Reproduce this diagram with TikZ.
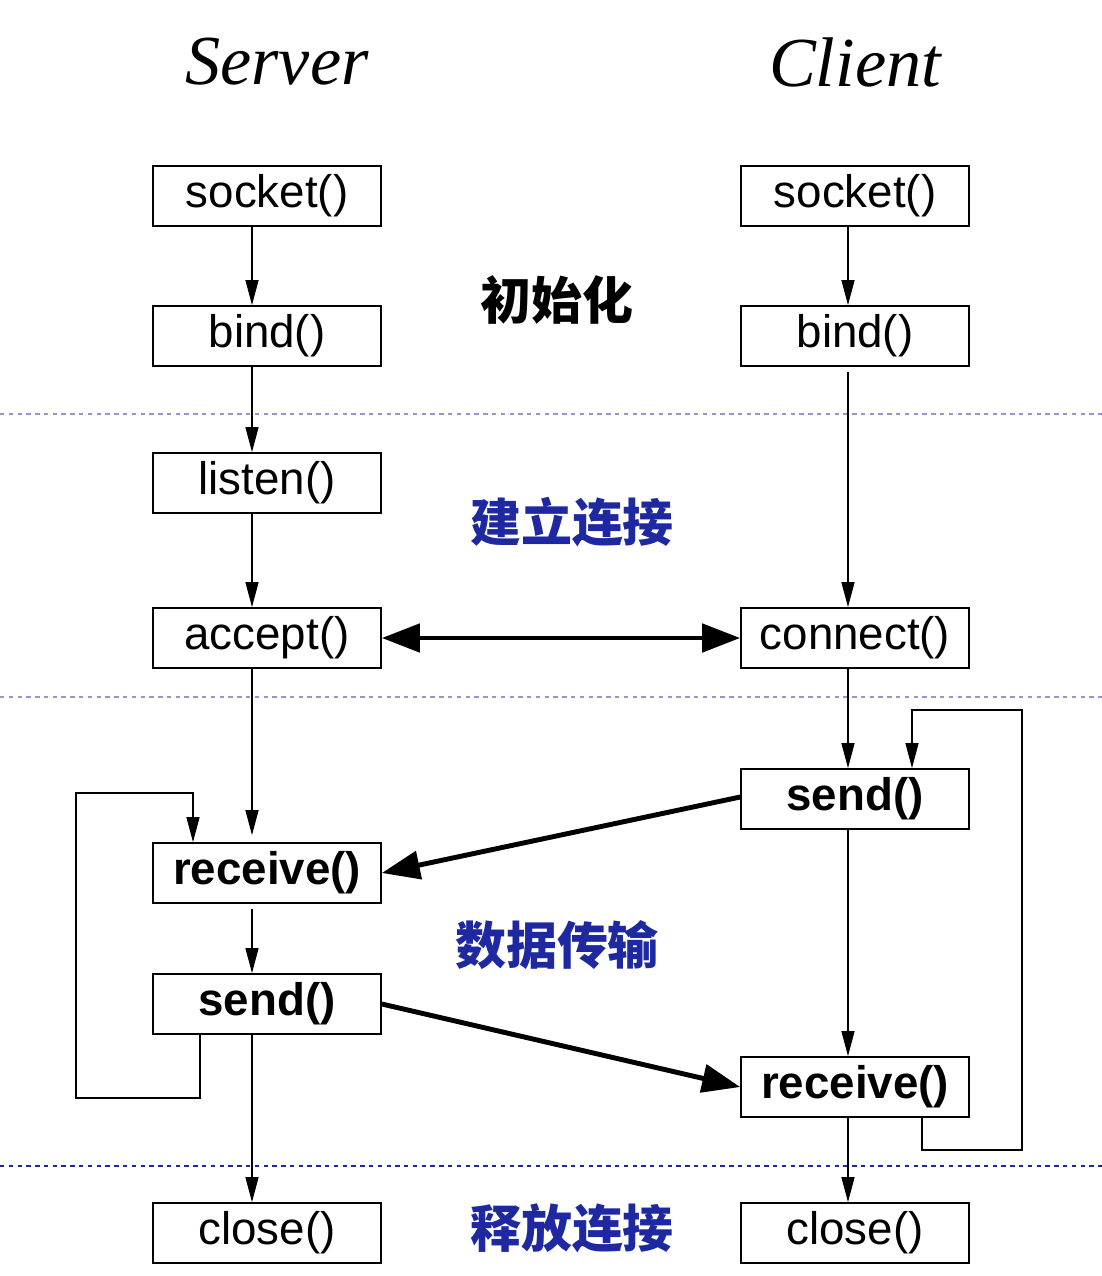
\documentclass[tikz,border=0pt]{standalone}
\usepackage{fontspec}
\setmainfont{Liberation Sans}
\newfontfamily\titlefont{Liberation Serif}
\newfontfamily\cjk{Noto Sans CJK SC}
\usetikzlibrary{arrows.meta}
\definecolor{stageblue}{RGB}{30,40,160}
\definecolor{sepline}{RGB}{150,150,205}

\begin{document}
\begin{tikzpicture}[x=0.02cm, y=-0.02cm, >={Triangle[length=0.5cm,width=0.26cm]},
   fn/.style={draw, line width=1pt, minimum width=4.56cm, minimum height=1.2cm, inner sep=0pt, font=\fontsize{26}{30}\selectfont},
   io/.style={fn, font=\fontsize{26}{30}\selectfont\bfseries},
   flow/.style={->, line width=0.7pt},
   data/.style={line width=2.8pt, -{Triangle[length=0.76cm,width=0.56cm]}},
   sep/.style={sepline, line width=1.2pt, dash pattern=on 2.5pt off 2.5pt},
   stage/.style={font=\cjk\bfseries\fontsize{29}{32}\selectfont, text=stageblue},
   side/.style={font=\titlefont\itshape\fontsize{40}{44}\selectfont}]
   \useasboundingbox (0,0) rectangle (1102,1276);
   \node (srvtitle) at (277,62) [side] {Server};
   \node (clititle) at (855,62) [side] {Client};
   \node (ssock) at (267,196) [fn] {socket()};
   \node (sbind) at (267,336) [fn] {bind()};
   \node (slisten) at (267,483) [fn] {listen()};
   \node (saccept) at (267,638) [fn] {accept()};
   \node (srecv) at (267,873) [io] {receive()};
   \node (ssend) at (267,1004) [io] {send()};
   \node (sclose) at (267,1233) [fn] {close()};
   \node (csock) at (855,196) [fn] {socket()};
   \node (cbind) at (855,336) [fn] {bind()};
   \node (cconn) at (855,638) [fn] {connect()};
   \node (csend) at (855,799) [io] {send()};
   \node (crecv) at (855,1087) [io] {receive()};
   \node (cclose) at (855,1233) [fn] {close()};
   \node (init) at (557,300) [stage, text=black] {初始化};
   \node (setup) at (572,522) [stage] {建立连接};
   \node (xfer) at (557,945) [stage] {数据传输};
   \node (release) at (572,1228) [stage] {释放连接};
   \draw[sep] (0,414) -- (1102,414);
   \draw[sep] (0,697) -- (1102,697);
   \draw[sep, stageblue] (0,1166) -- (1102,1166);
   \coordinate (sx) at (252,0);
   \coordinate (cx) at (848,0);
   \coordinate (sl) at (200,0);
   \coordinate (cl) at (922,0);
   \coordinate (sloop1) at (76,1098);
   \coordinate (sloop2) at (193,793);
   \coordinate (cloop1) at (1022,1150);
   \coordinate (cloop2) at (912,710);
   \draw[flow] (ssock.south -| sx) -- (sbind.north -| sx);
   \draw[flow] (sbind.south -| sx) -- (slisten.north -| sx);
   \draw[flow] (slisten.south -| sx) -- (saccept.north -| sx);
   \draw[flow] (saccept.south -| sx) -- ([yshift=0.14cm]srecv.north -| sx);
   \draw[flow] ([yshift=-0.1cm]srecv.south -| sx) -- (ssend.north -| sx);
   \draw[flow] (ssend.south -| sx) -- (sclose.north -| sx);
   \draw[flow] (ssend.south -| sl) |- (sloop1) |- (sloop2) -- (srecv.north -| sloop2);
   \draw[flow] (csock.south -| cx) -- (cbind.north -| cx);
   \draw[flow] ([yshift=-0.1cm]cbind.south -| cx) -- (cconn.north -| cx);
   \draw[flow] (cconn.south -| cx) -- (csend.north -| cx);
   \draw[flow] (csend.south -| cx) -- (crecv.north -| cx);
   \draw[flow] (crecv.south -| cx) -- (cclose.north -| cx);
   \draw[flow] (crecv.south -| cl) |- (cloop1) |- (cloop2) -- (csend.north -| cloop2);
   \draw[data, {Triangle[length=0.76cm,width=0.56cm]}-{Triangle[length=0.76cm,width=0.56cm]}] (saccept.east) -- (cconn.west);
   \draw[data] ([yshift=0.04cm]csend.west) -- (srecv.east);
   \draw[data] (ssend.east) -- (crecv.west);
\end{tikzpicture}
\end{document}
